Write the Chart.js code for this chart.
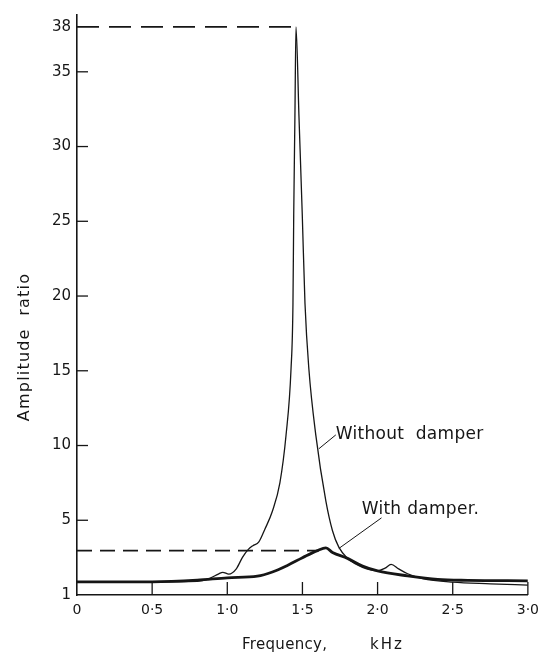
<!DOCTYPE html>
<html>
<head>
<meta charset="utf-8">
<script src="https://cdn.jsdelivr.net/npm/chart.js@4/dist/chart.umd.min.js"></script>
<style>
  html, body { margin: 0; padding: 0; background: #ffffff; }
  #wrap { width: 546px; height: 654px; position: relative; }
</style>
</head>
<body>
<div id="wrap"><canvas id="c" width="546" height="654"></canvas></div>
<script>
// ---- data ----
const xTickValues = [0, 0.5, 1.0, 1.5, 2.0, 2.5, 3.0];
const xTickLabels = ['0', '0·5', '1·0', '1·5', '2·0', '2·5', '3·0'];
const yTickValues = [0, 5, 10, 15, 20, 25, 30, 35, 38];
const yTickLabels = ['1', '5', '10', '15', '20', '25', '30', '35', '38'];

// "Without damper" curve (frequency kHz, amplitude ratio)
const freqWithout = [0, 0.5, 0.8, 0.88, 0.94, 0.97, 1.01, 1.06, 1.10, 1.14, 1.17, 1.21, 1.25, 1.30, 1.35, 1.391, 1.424, 1.437, 1.442, 1.45, 1.457, 1.477, 1.499, 1.517, 1.543, 1.589, 1.656, 1.70, 1.742, 1.80, 1.90, 2.00, 2.05, 2.09, 2.14, 2.20, 2.30, 2.50, 2.75, 3.00];
const ampWithout  = [0.88, 0.88, 0.92, 1.1, 1.4, 1.52, 1.4, 1.75, 2.5, 3.05, 3.3, 3.55, 4.4, 5.6, 7.5, 10.7, 15.1, 19.5, 25.4, 32.0, 38.0, 32.0, 25.4, 19.5, 15.1, 10.7, 6.28, 4.3, 3.2, 2.45, 1.85, 1.62, 1.8, 2.05, 1.75, 1.42, 1.1, 0.86, 0.75, 0.66];

// "With damper" curve
const freqWith = [0, 0.5, 0.8, 1.0, 1.2, 1.3, 1.4, 1.5, 1.6, 1.656, 1.7, 1.8, 1.9, 2.0, 2.2, 2.4, 2.6, 3.0];
const ampWith  = [0.88, 0.88, 0.99, 1.15, 1.26, 1.54, 1.98, 2.49, 2.97, 3.15, 2.85, 2.45, 1.94, 1.61, 1.28, 1.04, 0.98, 0.95];

// dashed reference lines (peak levels)
const dashTopFreq = [0, 1.457];
const dashTopAmp  = [38, 38];
const dashLowFreq = [0, 1.61];
const dashLowAmp  = [2.97, 2.97];

const seriesNames = ['Without damper', 'With damper'];

// ---- helpers ----
const toPoints = (xs, ys) => xs.map((v, i) => ({ x: v, y: ys[i] }));
const INK = '#161616';

const overlay = {
  id: 'overlay',
  afterDatasetsDraw(chart, args, opts) {
    const { ctx, scales: { x, y } } = chart;
    ctx.save();
    ctx.strokeStyle = INK;
    ctx.fillStyle = INK;
    ctx.lineWidth = 1.3;
    // inward tick marks on the y axis
    yTickValues.forEach(v => {
      if (v <= 0 || v >= 38) return;
      const py = y.getPixelForValue(v);
      ctx.beginPath(); ctx.moveTo(x.left, py); ctx.lineTo(x.left + opts.tickLen, py); ctx.stroke();
    });
    // inward tick marks on the x axis
    xTickValues.forEach(v => {
      if (v <= 0) return;
      const px = x.getPixelForValue(v);
      ctx.beginPath(); ctx.moveTo(px, y.bottom); ctx.lineTo(px, y.bottom - opts.tickLen - 2); ctx.stroke();
    });
    // leader lines and curve labels
    ctx.lineWidth = 1;
    opts.labels.forEach(l => {
      ctx.beginPath();
      ctx.moveTo(x.getPixelForValue(l.lead[0]), y.getPixelForValue(l.lead[1]));
      ctx.lineTo(x.getPixelForValue(l.lead[2]), y.getPixelForValue(l.lead[3]));
      ctx.stroke();
      ctx.font = '17px "DejaVu Sans"';
      ctx.letterSpacing = '0.3px';
      ctx.textAlign = 'left';
      ctx.textBaseline = 'alphabetic';
      ctx.fillText(l.text, x.getPixelForValue(l.at[0]), y.getPixelForValue(l.at[1]));
    });
    ctx.restore();
  },
  afterDraw(chart, args, opts) {
    const { ctx } = chart;
    ctx.save();
    ctx.fillStyle = INK;
    // x axis title
    ctx.font = '15px "DejaVu Sans"';
    ctx.letterSpacing = '0.3px';
    ctx.textAlign = 'left';
    ctx.textBaseline = 'alphabetic';
    ctx.fillText('Frequency,', 242, 649);
    ctx.letterSpacing = '2px';
    ctx.fillText('kHz', 370, 649);
    // y axis title
    ctx.translate(29, 347);
    ctx.rotate(-Math.PI / 2);
    ctx.font = '16px "DejaVu Sans"';
    ctx.letterSpacing = '1.2px';
    ctx.textAlign = 'center';
    ctx.fillText('Amplitude  ratio', 0, 0);
    ctx.restore();
  }
};

new Chart(document.getElementById('c'), {
  type: 'scatter',
  data: {
    datasets: [
      {
        label: seriesNames[0],
        data: toPoints(freqWithout, ampWithout),
        showLine: true, borderColor: INK, borderWidth: 1.3,
        pointRadius: 0, cubicInterpolationMode: 'monotone'
      },
      {
        label: seriesNames[1],
        data: toPoints(freqWith, ampWith),
        showLine: true, borderColor: INK, borderWidth: 2.8,
        pointRadius: 0, cubicInterpolationMode: 'monotone'
      },
      {
        label: 'peak level without damper',
        data: toPoints(dashTopFreq, dashTopAmp),
        showLine: true, borderColor: INK, borderWidth: 1.8,
        borderDash: [22, 10], pointRadius: 0
      },
      {
        label: 'peak level with damper',
        data: toPoints(dashLowFreq, dashLowAmp),
        showLine: true, borderColor: INK, borderWidth: 1.8,
        borderDash: [15, 8], pointRadius: 0
      }
    ]
  },
  options: {
    responsive: false,
    animation: false,
    devicePixelRatio: 1,
    layout: { padding: { top: 8, right: 16, left: 0, bottom: 0 } },
    plugins: {
      legend: { display: false },
      tooltip: { enabled: false },
      overlay: {
        tickLen: 11,
        labels: [
          { text: 'Without  damper', at: [1.722, 10.45], lead: [1.722, 10.71, 1.609, 9.78] },
          { text: 'With damper.', at: [1.894, 5.4], lead: [2.026, 5.16, 1.742, 3.11] }
        ]
      }
    },
    scales: {
      x: {
        type: 'linear',
        min: 0, max: 3,
        afterBuildTicks: s => { s.ticks = xTickValues.map(v => ({ value: v })); },
        afterFit: s => { s.height = 59; },
        grid: { display: false, drawTicks: false },
        border: { display: true, color: INK, width: 1.6 },
        ticks: {
          padding: 7, color: INK, maxRotation: 0, autoSkip: false,
          font: { family: 'DejaVu Sans', size: 14 },
          callback: (v, i) => xTickLabels[i]
        }
      },
      y: {
        type: 'linear',
        min: 0, max: 38.8,
        afterBuildTicks: s => { s.ticks = yTickValues.map(v => ({ value: v })); },
        afterFit: s => { s.width = 77; },
        grid: { display: false, drawTicks: false },
        border: { display: true, color: INK, width: 1.6 },
        ticks: {
          padding: 6, color: INK, autoSkip: false,
          font: { family: 'DejaVu Sans', size: 15 },
          callback: (v, i) => yTickLabels[i]
        }
      }
    }
  },
  plugins: [overlay]
});
</script>
</body>
</html>
